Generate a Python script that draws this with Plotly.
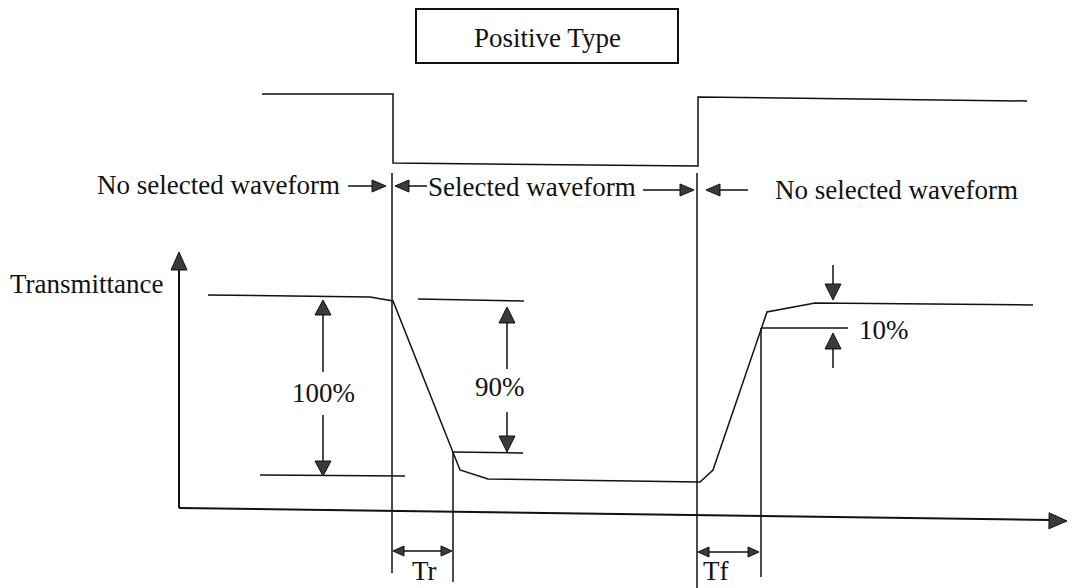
import math
import plotly.graph_objects as go

# ---- data (diagram coordinates, pixel space of the 1076x588 canvas) ----
drive_x = [262, 393, 393, 698, 698, 1027]
drive_y = [94, 94, 163, 166, 97, 101]

trans_x = [208, 370, 393, 460, 488, 700, 713, 767, 815, 1033]
trans_y = [295, 297, 301, 470, 479, 482, 470, 312, 303, 305]

title_text = "Positive Type"
region_labels = ["No selected waveform", "Selected waveform", "No selected waveform"]
pct_labels = ["100%", "90%", "10%"]
time_labels = ["Tr", "Tf"]
y_label = "Transmittance"

FONT = dict(family="Liberation Serif, Times New Roman, serif", size=27, color="#111")
LINE = dict(color="#111", width=1.5)

# page body has an 8px margin; compensate so diagram coords equal window pixels
OFF = 8

fig = go.Figure()
fig.add_trace(go.Scatter(x=drive_x, y=drive_y, mode="lines", line=LINE, hoverinfo="skip"))
fig.add_trace(go.Scatter(x=trans_x, y=trans_y, mode="lines", line=LINE, hoverinfo="skip"))

shapes = []

def seg(x0, y0, x1, y1, w=1.5):
    shapes.append(dict(type="line", x0=x0, y0=y0, x1=x1, y1=y1, xref="x", yref="y",
                       line=dict(color="#111", width=w)))

def head(tx, ty, dx, dy, length=15, half=7):
    n = math.hypot(dx, dy)
    ux, uy = dx / n, dy / n
    bx, by = tx - ux * length, ty - uy * length
    px, py = -uy * half, ux * half
    path = f"M {tx},{ty} L {bx+px},{by+py} L {bx-px},{by-py} Z"
    shapes.append(dict(type="path", path=path, xref="x", yref="y",
                       fillcolor="#3a3a3a", line=dict(color="#111", width=1)))

# title box
shapes.append(dict(type="rect", x0=416, y0=9, x1=678, y1=63, xref="x", yref="y",
                   line=dict(color="#111", width=2)))

# vertical markers
seg(392, 173, 392, 573)
seg(453, 452, 453, 582)
seg(697, 173, 697, 588)
seg(761, 328, 761, 577)

# reference levels
seg(260, 475, 405, 476)
seg(418, 299, 524, 301)
seg(453, 452, 523, 453)
seg(762, 328, 848, 328)

# axes
seg(179, 508, 179, 268, 2)
head(179, 252, 0, -1, 18, 8)
seg(179, 508, 1050, 520, 2)
head(1067, 521, 1, 0.014, 18, 8)

# 100% arrows
head(323, 300, 0, -1, 15, 8); seg(323, 314, 323, 372)
seg(323, 415, 323, 462); head(323, 476, 0, 1, 15, 8)
# 90% arrows
head(507, 307, 0, -1, 16, 8); seg(507, 322, 507, 369)
seg(507, 412, 507, 437); head(507, 452, 0, 1, 16, 8)
# 10% arrows
seg(833, 265, 833, 285); head(833, 300, 0, 1, 16, 8)
head(833, 333, 0, -1, 16, 8); seg(833, 348, 833, 368)

# region arrows
seg(348, 186, 372, 186); head(386, 186, 1, 0, 14, 6)
head(395, 186, -1, 0, 14, 6); seg(408, 186, 427, 186)
seg(643, 190, 682, 190); head(694, 190, 1, 0, 14, 6)
head(706, 190, -1, 0, 14, 6); seg(719, 190, 748, 190)

# Tr / Tf
head(393, 551, -1, 0, 11, 5); seg(403, 551, 442, 551); head(452, 551, 1, 0, 11, 5)
head(698, 552, -1, 0, 11, 5); seg(708, 552, 749, 552); head(759, 552, 1, 0, 11, 5)

ann = []
def txt(x, y, s, anchor="center"):
    ann.append(dict(x=x, y=y, text=s, showarrow=False, xref="x", yref="y",
                    xanchor=anchor, yanchor="middle", font=FONT))

txt(547, 38, title_text)
txt(95, 185, region_labels[0], "left")
txt(426, 187, region_labels[1], "left")
txt(773, 190, region_labels[2], "left")
txt(8, 284, y_label, "left")
txt(323, 393, pct_labels[0])
txt(500, 387, pct_labels[1])
txt(857, 330, pct_labels[2], "left")
txt(424, 571, time_labels[0])
txt(715, 571, time_labels[1])

fig.update_layout(
    width=1076 - OFF, height=588 - OFF, autosize=False,
    margin=dict(l=0, r=0, t=0, b=0),
    paper_bgcolor="white", plot_bgcolor="white",
    showlegend=False,
    xaxis=dict(range=[OFF, 1076], visible=False, fixedrange=True),
    yaxis=dict(range=[588, OFF], visible=False, fixedrange=True),
    shapes=shapes, annotations=ann,
)
fig.write_html("out.html", config=dict(displayModeBar=False))
